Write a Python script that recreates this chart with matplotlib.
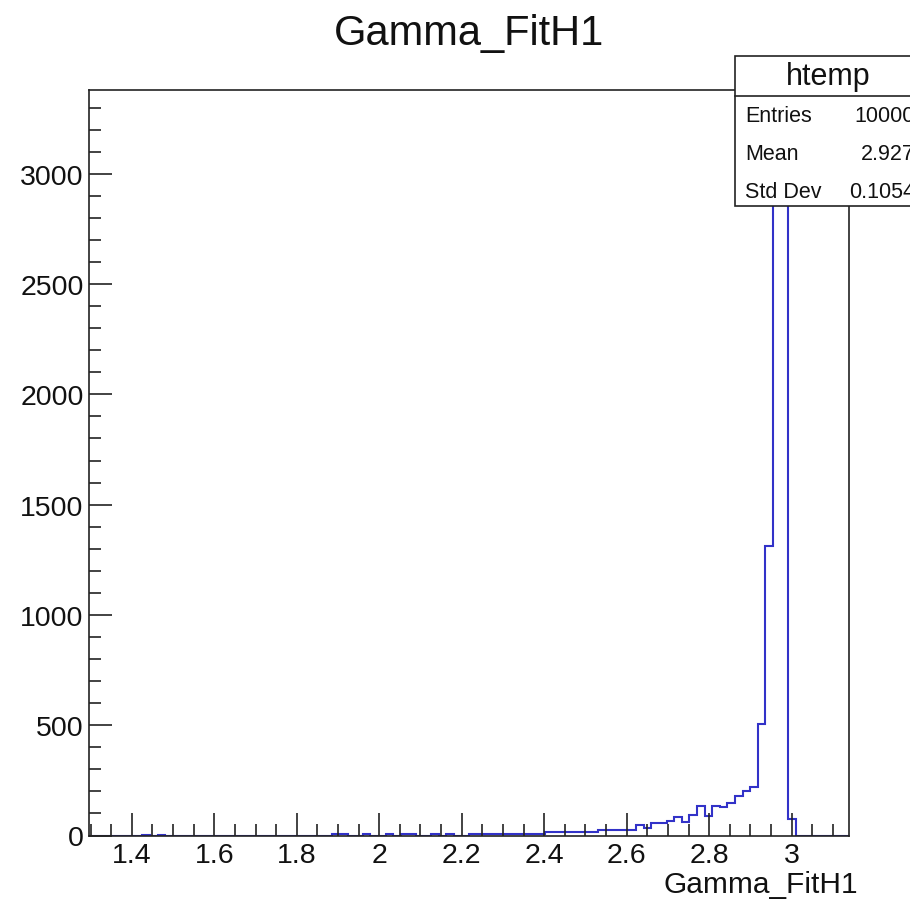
import numpy as np
import matplotlib
matplotlib.use('Agg')
from matplotlib import pyplot as plt
from matplotlib.patches import Rectangle
from matplotlib.lines import Line2D
from matplotlib.ticker import MultipleLocator, FuncFormatter

plt.rcParams['font.family'] = ['Liberation Sans', 'DejaVu Sans']

# histogram axis range and bin contents (100 bins)
x_min, x_max = 1.297, 3.139
n_bins = 100
counts = [
    0, 0, 0, 0, 0, 0, 0, 3, 0, 3,
    0, 0, 0, 0, 0, 0, 0, 0, 0, 0,
    0, 0, 0, 0, 0, 0, 0, 0, 0, 0,
    0, 0, 5, 5, 0, 0, 5, 0, 0, 5,
    0, 5, 5, 0, 0, 5, 0, 5, 0, 0,
    9, 9, 9, 9, 9, 9, 9, 9, 9, 9,
    17, 17, 17, 17, 17, 17, 17, 27, 27, 27,
    27, 27, 47, 34, 57, 57, 67, 85, 60, 93,
    135, 90, 135, 130, 146, 180, 200, 218, 504, 1313,
    2900, 3219, 74, 0, 0, 0, 0, 0, 0, 0,
]
y_top = 3380

hist_name = 'htemp'
var_name = 'Gamma_FitH1'
stat_names = ['Entries', 'Mean', 'Std Dev']
stat_values = ['10000', '2.927', '0.1054']

W, H = 910, 903
fig = plt.figure(figsize=(W / 100, H / 100), dpi=100)
ax = fig.add_axes([89.3 / W, 1 - 836.5 / H, (849 - 89.3) / W, (836.5 - 91) / H])

edges = np.linspace(x_min, x_max, n_bins + 1)
ax.stairs(counts, edges, color='#3232c8', linewidth=1.5)

ax.set_xlim(x_min, x_max)
ax.set_ylim(0, y_top)

ax.xaxis.set_major_locator(MultipleLocator(0.2))
ax.xaxis.set_minor_locator(MultipleLocator(0.05))
ax.yaxis.set_major_locator(MultipleLocator(500))
ax.yaxis.set_minor_locator(MultipleLocator(100))
ax.xaxis.set_major_formatter(FuncFormatter(lambda v, p: f'{v:g}'))
ax.yaxis.set_major_formatter(FuncFormatter(lambda v, p: f'{v:g}'))

ax.tick_params(which='both', direction='in', top=False, right=False,
               color='#222222', width=1.2, labelsize=20.5, labelcolor='#111111')
ax.tick_params(which='major', length=16.5)
ax.tick_params(which='minor', length=8.5)
ax.tick_params(axis='x', pad=5)
ax.tick_params(axis='y', pad=4)
for s in ax.spines.values():
    s.set_linewidth(1.2)
    s.set_color('#222222')

fig.text(469 / W, 1 - 45 / H, var_name, ha='center', va='baseline', fontsize=30, color='#111111')
fig.text(858 / W, 1 - 893 / H, var_name, ha='right', va='baseline', fontsize=21.5, color='#111111')

# stats box
bx0, by0, bx1, by1 = 735, 57, 930, 207
fig.add_artist(Rectangle((bx0 / W, 1 - by1 / H), (bx1 - bx0) / W, (by1 - by0) / H,
                         transform=fig.transFigure, facecolor='white',
                         edgecolor='#222222', linewidth=1.2, zorder=5))
fig.add_artist(Line2D([bx0 / W, 1], [1 - 97 / H, 1 - 97 / H], transform=fig.transFigure,
                      color='#222222', linewidth=1.2, zorder=6))
fig.text(828 / W, 1 - 77 / H, hist_name, ha='center', va='center', fontsize=22,
         color='#111111', zorder=7)
for i, (name, val) in enumerate(zip(stat_names, stat_values)):
    yy = 1 - (117 + i * 37.5) / H
    fig.text(745 / W, yy, name, ha='left', va='center', fontsize=15.5, color='#111111', zorder=7)
    fig.text(915 / W, yy, val, ha='right', va='center', fontsize=15.5, color='#111111', zorder=7)

fig.savefig('out.png', dpi=100)
